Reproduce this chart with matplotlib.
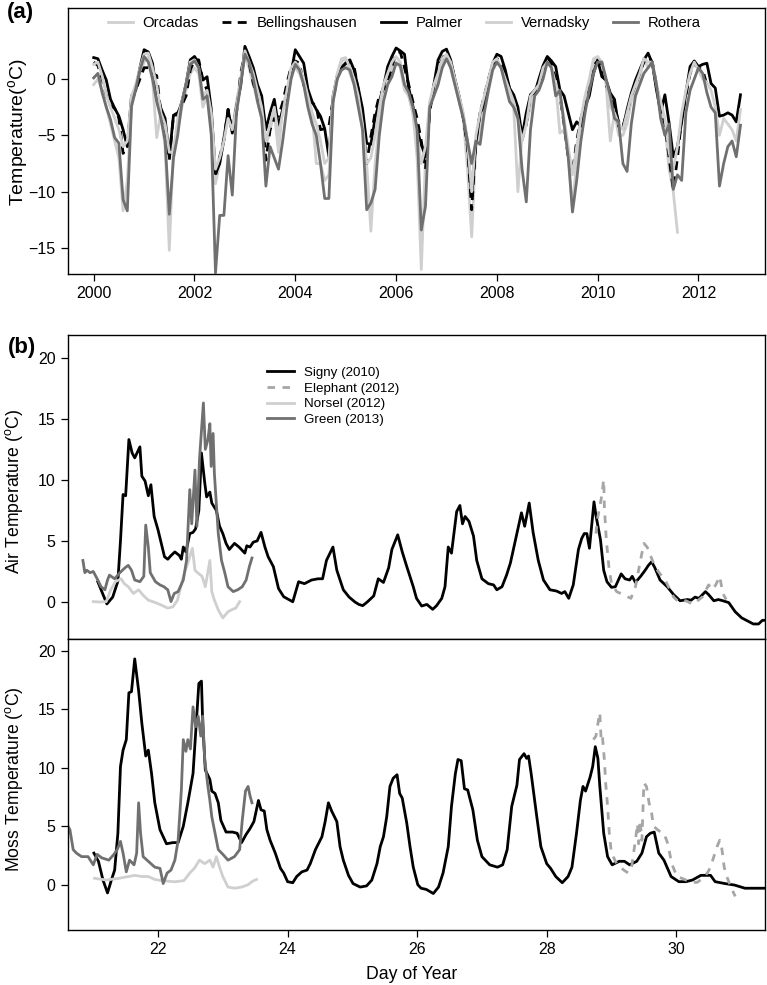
import numpy as np
import matplotlib
matplotlib.use("Agg")
import matplotlib.pyplot as plt

plt.rcParams['font.family'] = ['Liberation Sans', 'DejaVu Sans']
plt.rcParams['mathtext.fontset'] = 'custom'
plt.rcParams['mathtext.rm'] = 'Liberation Sans'
plt.rcParams['mathtext.it'] = 'Liberation Sans:italic'

# ---- panel (a): monthly mean temperature, Jan 2000 onward ----
orcadas = [
    -0.5, 0.0, -1.0, -2.5, -4.0, -5.5, -7.0, -11.7, -9.0, -2.5, -1.0, 0.5,
    1.5, 2.0, 0.0, -5.2, -3.0, -6.0, -15.2, -6.0, -4.5, -2.5, -1.0, 0.5,
    1.0, 0.5, -2.5, -1.5, -3.5, -9.3, -7.5, -5.0, -3.0, -4.5, -2.0, 0.0,
    2.0, 1.0, -0.5, -2.0, -3.5, -6.0, -4.5, -3.0, -6.5, -2.5, -1.0, 0.5,
    1.0, 0.5, -0.5, -1.5, -3.0, -7.5, -7.5, -9.0, -8.5, -2.0, 0.0, 1.5,
    1.8, 0.5, -0.5, -2.0, -4.0, -7.5, -13.5, -7.5, -4.0, -1.5, 0.0, 1.0,
    1.5, 1.0, -1.0, -1.5, -3.0, -7.0, -16.9, -7.0, -2.5, -1.5, 0.0, 1.5,
    2.0, 1.0, -0.5, -2.0, -3.5, -8.0, -14.0, -6.0, -4.5, -2.5, -0.5, 1.0,
    1.5, 1.0, -0.5, -1.5, -2.5, -10.0, -5.0, -4.0, -2.5, -1.0, -0.5, 0.5,
    1.8, 1.0, -0.5, -4.8, -4.5, -6.5, -11.6, -7.0, -3.5, -2.0, -0.5, 1.5,
    1.8, 1.5, -0.5, -5.5, -3.0, -5.0, -5.0, -4.0, -2.0, -1.0, 0.0, 1.8,
    1.0, 1.5, -1.0, -2.0, -4.0, -8.0, -10.0, -13.6,
]
bellingshausen = [
    1.5, 1.2, 0.0, -1.5, -2.4, -2.6, -3.5, -6.6, -6.0, -2.0, -1.0, 0.0,
    1.0, 1.0, 0.5, 0.3, -3.0, -4.5, -7.2, -3.2, -3.0, -2.3, -1.5, 0.8,
    1.7, 1.7, -0.1, -1.0, -3.9, -8.6, -6.9, -5.4, -2.7, -4.8, -3.0, 0.5,
    2.3, 1.4, -0.4, -1.5, -2.4, -7.2, -4.5, -3.5, -3.3, -2.1, -0.4, 1.1,
    1.6, 1.4, -0.5, -1.5, -2.1, -2.4, -4.5, -4.4, -4.2, -1.8, 0.2, 1.0,
    1.4, 1.4, 1.1, -0.95, -3.6, -7.5, -5.1, -3.0, -1.5, -0.9, -0.4, 1.1,
    2.3, 2.4, 1.0, -0.5, -2.0, -3.5, -5.5, -8.0, -3.0, -0.5, 1.0, 1.8,
    2.4, 1.5, 0.0, -1.8, -3.5, -6.0, -11.6, -5.5, -3.0, -1.5, 0.0, 1.2,
    1.8, 1.5, 0.5, -0.8, -1.8, -3.0, -5.4, -4.0, -1.4, -1.0, -0.5, 0.5,
    2.0, 1.3, 0.0, -1.5, -4.0, -7.0, -8.3, -5.5, -3.5, -2.0, -0.5, 1.2,
    1.6, 1.0, -0.5, -1.5, -2.5, -3.8, -4.2, -3.0, -1.5, -0.5, 0.5, 1.5,
    2.0, 1.5, -0.5, -2.5, -4.0, -7.0, -9.8, -7.0, -3.5, -1.5, 0.5, 1.3,
    1.0, 0.8, -0.5,
]
palmer = [
    1.9, 1.8, 0.8, -0.1, -1.8, -2.6, -3.3, -4.5, -6.0, -1.5, -1.0, 1.0,
    2.6, 2.4, 1.4, -1.2, -2.6, -3.5, -6.9, -3.2, -3.2, -2.0, -0.4, 1.7,
    2.0, 1.4, -0.1, 0.2, -2.7, -8.4, -7.5, -5.4, -2.7, -4.8, -2.4, -0.6,
    2.9, 2.0, 1.0, -0.5, -1.5, -4.5, -3.0, -1.8, -4.2, -2.7, -1.5, 0.5,
    2.6, 2.0, 1.4, -0.9, -2.0, -2.7, -3.3, -4.4, -6.9, -1.5, 0.3, 1.0,
    1.4, 1.7, 0.8, -0.8, -2.6, -5.7, -5.8, -3.5, -2.0, -0.7, 1.1, 2.0,
    2.75, 2.5, 2.2, -0.8, -2.4, -4.5, -5.8, -6.9, -2.7, -0.5, 1.7, 2.45,
    2.65, 1.7, 0.0, -1.5, -3.3, -5.7, -10.4, -5.7, -3.0, -2.4, -0.1, 1.4,
    2.2, 2.0, 0.8, -0.8, -1.4, -2.5, -5.1, -3.0, -1.4, -1.25, 0.0, 1.2,
    2.0, 1.6, 1.1, -0.95, -1.5, -3.0, -4.5, -3.8, -4.2, -2.4, -1.5, 0.5,
    1.7, 0.2, -0.1, -1.25, -1.8, -4.2, -4.4, -2.7, -1.25, -0.1, 0.8, 1.7,
    2.3, 1.4, -0.95, -3.0, -1.4, -3.9, -6.9, -6.0, -3.8, -1.25, 1.1, 1.6,
    1.1, 1.3, 1.4, -0.4, -0.8, -3.3, -3.2, -3.0, -3.2, -3.8, -1.4,
]
vernadsky = [
    1.3, 1.5, 0.3, -1.5, -2.5, -3.5, -4.5, -6.0, -5.5, -1.5, -0.5, 1.0,
    2.2, 2.3, 1.0, -0.5, -3.0, -4.0, -6.5, -6.5, -3.5, -2.0, -0.5, 1.5,
    1.7, 1.0, -1.5, -1.0, -3.0, -8.0, -7.0, -5.5, -3.5, -4.5, -2.5, 0.0,
    2.5, 1.5, 0.5, -1.0, -2.5, -5.5, -4.0, -2.5, -5.0, -3.0, -1.0, 1.0,
    1.5, 1.0, 0.0, -1.5, -3.0, -4.0, -5.5, -7.5, -7.0, -1.5, 0.5, 1.8,
    1.9, 1.0, 0.0, -1.5, -4.0, -7.5, -7.0, -5.0, -2.5, -0.5, 0.5, 1.5,
    2.0, 1.5, -0.5, -1.5, -3.0, -5.0, -7.5, -6.0, -2.0, -0.5, 0.5, 1.8,
    2.2, 1.5, 0.0, -1.5, -3.0, -5.5, -10.0, -5.0, -3.0, -1.5, 0.0, 1.5,
    1.8, 1.0, 0.0, -1.0, -2.0, -3.5, -5.5, -4.0, -1.5, -1.0, -0.5, 1.0,
    1.5, 1.0, -0.5, -1.5, -3.5, -6.0, -8.5, -6.0, -3.5, -1.5, 0.0, 1.8,
    2.0, 1.5, 0.0, -2.5, -3.0, -4.0, -4.5, -3.0, -1.5, -0.5, 0.5, 1.8,
    1.5, 1.5, -0.5, -2.0, -3.5, -6.5, -8.0, -6.0, -3.0, -1.0, 0.5, 1.5,
    0.8, 0.0, -0.3, -1.0, -2.5, -5.0, -3.5, -4.0, -4.5, -5.5, -2.7,
]
rothera = [
    0.1, 0.5, -1.2, -2.5, -3.6, -5.2, -5.7, -10.7, -11.7, -2.4, -0.9, 0.8,
    2.0, 1.5, 0.0, -2.0, -3.5, -5.5, -12.0, -7.0, -5.0, -2.1, -0.5, 1.3,
    1.6, 1.0, -1.8, -1.5, -5.0, -17.2, -12.1, -12.1, -6.8, -10.3, -3.0, -0.5,
    2.2, 1.5, 0.0, -2.0, -3.5, -9.5, -6.0, -7.0, -8.0, -5.5, -2.5, 0.0,
    1.3, 0.8, -0.5, -2.5, -4.0, -5.0, -7.5, -10.6, -10.6, -2.0, 0.0, 0.8,
    1.0, 0.8, -0.5, -2.5, -4.5, -11.6, -11.0, -9.8, -5.0, -2.0, -0.5, 0.2,
    1.4, 1.2, -0.5, -1.2, -2.5, -4.5, -13.4, -11.3, -2.5, -1.5, -0.5, 1.0,
    1.8, 1.0, -0.5, -2.0, -3.5, -5.5, -7.5, -5.5, -5.8, -3.0, -1.0, 0.8,
    1.5, 1.0, -0.5, -2.0, -2.5, -3.5, -8.0, -10.9, -4.5, -1.5, -1.0, 0.0,
    1.5, 1.0, -1.5, -1.0, -4.0, -7.0, -11.8, -9.0, -5.5, -3.0, -1.0, 0.5,
    1.5, 1.5, 0.0, -1.5, -3.5, -3.8, -7.5, -8.2, -4.0, -1.5, -0.5, 0.5,
    1.0, 1.5, -0.5, -3.5, -5.0, -4.0, -9.8, -8.5, -9.0, -3.0, -1.0, 0.0,
    1.0, 0.5, -1.2, -2.5, -3.0, -9.5, -7.5, -6.0, -5.5, -6.9, -4.1,
]

# ---- panel (b): air and moss temperature by day of year ----
signy_air_day = [21.07, 21.21, 21.30, 21.38, 21.42, 21.46, 21.50, 21.55, 21.60, 21.64, 21.72, 21.75,
                 21.80, 21.85, 21.89, 21.94, 22.00, 22.05, 22.10, 22.15, 22.20, 22.26, 22.33, 22.36,
                 22.39, 22.43, 22.49, 22.54, 22.58, 22.63, 22.67, 22.72, 22.75, 22.80, 22.83, 22.90,
                 22.95, 23.00, 23.05, 23.10, 23.18, 23.25, 23.34, 23.37, 23.42, 23.47, 23.53, 23.59,
                 23.65, 23.70, 23.78, 23.86, 23.94, 24.08, 24.17, 24.26, 24.37, 24.47, 24.54, 24.60,
                 24.70, 24.76, 24.86, 24.95, 25.04, 25.10, 25.16, 25.23, 25.33, 25.40, 25.48, 25.56,
                 25.61, 25.70, 25.77, 25.84, 25.94, 25.99, 26.07, 26.15, 26.24, 26.30, 26.38, 26.43,
                 26.48, 26.53, 26.61, 26.66, 26.70, 26.74, 26.80, 26.87, 26.92, 27.00, 27.10, 27.18,
                 27.23, 27.31, 27.38, 27.44, 27.54, 27.61, 27.66, 27.73, 27.79, 27.87, 27.95, 28.05,
                 28.15, 28.23, 28.28, 28.34, 28.41, 28.49, 28.54, 28.58, 28.62, 28.66, 28.73, 28.76,
                 28.83, 28.88, 28.93, 29.00, 29.06, 29.15, 29.21, 29.28, 29.32, 29.37, 29.45, 29.52,
                 29.57, 29.62, 29.67, 29.75, 29.86, 29.96, 30.06, 30.17, 30.23, 30.29, 30.35, 30.45,
                 30.50, 30.58, 30.65, 30.72, 30.81, 30.91, 31.01, 31.12, 31.19, 31.27, 31.33, 31.38]
signy_air = [1.66, -0.16, 0.4, 1.7, 5.0, 8.8, 8.7, 13.3, 12.2, 11.8, 12.7, 10.3,
             9.9, 8.7, 9.6, 7.0, 5.9, 4.8, 3.7, 3.5, 3.8, 4.1, 3.8, 3.5,
             4.5, 4.1, 5.6, 5.7, 6.0, 7.5, 12.2, 9.8, 8.6, 9.0, 8.1, 7.5,
             6.2, 5.6, 4.8, 4.3, 4.8, 4.5, 4.0, 4.6, 4.5, 4.9, 5.0, 5.7,
             4.5, 3.7, 2.9, 1.1, 0.43, 0.02, 1.66, 1.5, 1.8, 1.9, 1.9, 3.4,
             4.5, 2.6, 1.0, 0.4, 0.0, -0.2, -0.3, 0.0, 0.5, 1.9, 1.6, 2.8,
             4.3, 5.5, 4.1, 2.9, 1.25, 0.3, -0.33, -0.2, -0.6, -0.3, 0.3, 1.25,
             4.5, 4.0, 7.4, 7.9, 6.4, 7.0, 6.6, 5.4, 3.4, 1.9, 1.5, 1.4,
             1.0, 1.25, 2.2, 3.2, 5.6, 7.3, 6.2, 8.1, 5.7, 3.4, 1.8, 1.0,
             0.9, 0.7, 0.85, 0.3, 1.4, 4.3, 5.2, 5.6, 5.6, 4.4, 8.2, 7.1,
             5.1, 2.6, 1.66, 1.2, 1.25, 2.3, 1.9, 1.8, 2.1, 1.6, 2.1, 2.6,
             3.0, 3.3, 2.8, 1.8, 1.25, 0.6, 0.1, 0.2, 0.15, 0.4, 0.3, 0.85,
             0.6, 0.1, 0.2, 0.1, -0.05, -0.8, -1.3, -1.6, -1.8, -1.8, -1.5, -1.5]

elephant_air_day = [28.76, 28.78, 28.84, 28.88, 28.89, 28.92, 28.96, 29.00, 29.08, 29.18, 29.30,
                    29.37, 29.44, 29.50, 29.55, 29.61, 29.67, 29.75, 29.83, 29.88, 29.96, 30.04,
                    30.15, 30.26, 30.34, 30.40, 30.50, 30.55, 30.61, 30.67, 30.72, 30.77]
elephant_air = [5.6, 6.7, 8.4, 10.0, 7.8, 5.1, 2.9, 1.5, 0.85, 0.6, 0.3,
                1.25, 3.2, 4.8, 4.5, 3.7, 2.9, 2.3, 1.8, 1.25, 0.4, 0.0,
                0.1, -0.2, 0.15, 0.4, 1.4, 1.0, 1.4, 2.1, 0.7, 0.2]

norsel_air_day = [21.00, 21.10, 21.20, 21.27, 21.34, 21.43, 21.48, 21.54, 21.62, 21.70, 21.77,
                  21.85, 21.96, 22.05, 22.15, 22.23, 22.30, 22.39, 22.46, 22.53, 22.57, 22.61,
                  22.68, 22.73, 22.80, 22.83, 22.87, 22.93, 23.00, 23.08, 23.15, 23.20, 23.26]
norsel_air = [0.03, 0.0, 0.03, 1.0, 1.66, 1.9, 1.5, 1.25, 0.7, 1.0, 0.55,
              0.15, -0.05, -0.25, -0.5, -0.4, 0.15, 2.1, 3.2, 4.4, 2.6, 2.4,
              2.1, 1.25, 3.4, 0.85, 0.15, -0.65, -1.3, -0.8, -0.6, -0.5, 0.03]

green_air_day = [20.84, 20.87, 20.90, 20.95, 21.00, 21.07, 21.12, 21.18, 21.22, 21.25, 21.33,
                 21.41, 21.49, 21.54, 21.59, 21.64, 21.72, 21.78, 21.81, 21.85, 21.88, 21.96,
                 22.03, 22.09, 22.15, 22.20, 22.25, 22.31, 22.39, 22.44, 22.49, 22.52, 22.57,
                 22.60, 22.64, 22.70, 22.73, 22.77, 22.80, 22.82, 22.85, 22.87, 22.93, 22.98,
                 23.03, 23.08, 23.16, 23.23, 23.30, 23.36, 23.41, 23.45]
green_air = [3.4, 2.4, 2.6, 2.4, 2.5, 1.8, 1.25, 1.0, 1.8, 2.2, 1.9,
             2.4, 2.8, 3.0, 2.6, 1.8, 1.66, 2.1, 6.3, 4.5, 2.4, 1.66,
             1.4, 1.25, 1.0, 0.03, 0.7, 0.85, 1.8, 3.4, 9.2, 6.4, 10.8,
             6.2, 11.7, 16.3, 12.5, 13.3, 14.6, 11.1, 13.8, 10.5, 5.6, 3.4,
             2.4, 1.25, 0.85, 1.0, 1.25, 1.8, 2.9, 3.6]

signy_moss_day = [21.01, 21.08, 21.15, 21.22, 21.28, 21.33, 21.38, 21.42, 21.46, 21.51, 21.55, 21.59,
                  21.64, 21.70, 21.75, 21.81, 21.85, 21.90, 21.95, 22.03, 22.13, 22.23, 22.31, 22.39,
                  22.46, 22.54, 22.59, 22.63, 22.67, 22.69, 22.73, 22.80, 22.83, 22.88, 22.93, 22.97,
                  23.05, 23.15, 23.22, 23.29, 23.36, 23.42, 23.48, 23.55, 23.59, 23.64, 23.68, 23.73,
                  23.81, 23.89, 23.94, 24.00, 24.08, 24.14, 24.22, 24.30, 24.35, 24.43, 24.53, 24.58,
                  24.63, 24.68, 24.76, 24.81, 24.86, 24.94, 25.01, 25.12, 25.22, 25.30, 25.38, 25.43,
                  25.48, 25.53, 25.58, 25.63, 25.69, 25.73, 25.77, 25.84, 25.89, 25.94, 26.01, 26.06,
                  26.14, 26.25, 26.33, 26.40, 26.48, 26.53, 26.59, 26.63, 26.68, 26.73, 26.78, 26.86,
                  26.93, 27.00, 27.12, 27.24, 27.32, 27.39, 27.46, 27.54, 27.58, 27.65, 27.69, 27.72,
                  27.76, 27.84, 27.91, 28.00, 28.06, 28.14, 28.24, 28.33, 28.39, 28.46, 28.52, 28.56,
                  28.60, 28.67, 28.71, 28.75, 28.79, 28.82, 28.88, 28.94, 29.01, 29.12, 29.20, 29.28,
                  29.39, 29.47, 29.54, 29.60, 29.66, 29.73, 29.81, 29.92, 30.04, 30.15, 30.25, 30.38,
                  30.53, 30.60, 30.75, 30.90, 31.06, 31.21, 31.36]
signy_moss = [2.7, 2.0, 0.4, -0.7, 0.4, 1.25, 4.4, 10.1, 11.5, 12.4, 16.4, 16.5,
              19.3, 16.6, 13.8, 11.0, 11.5, 9.5, 7.0, 4.7, 3.5, 3.6, 3.6, 5.0,
              7.0, 9.5, 13.8, 17.2, 17.4, 13.8, 9.8, 9.0, 8.0, 7.8, 7.0, 5.5,
              4.5, 4.5, 4.4, 3.6, 4.3, 4.8, 5.4, 7.2, 6.4, 6.3, 4.7, 3.8,
              2.7, 1.4, 1.0, 0.26, 0.17, 0.7, 1.1, 1.25, 1.8, 3.0, 4.1, 5.4,
              7.0, 6.3, 5.4, 3.25, 2.1, 0.8, 0.1, -0.2, -0.1, 0.4, 1.8, 3.25,
              4.1, 5.8, 8.4, 9.1, 9.4, 7.8, 7.4, 5.25, 3.25, 1.5, 0.0, -0.3,
              -0.4, -0.75, -0.2, 1.0, 3.25, 6.7, 9.5, 10.7, 10.6, 8.2, 8.1, 6.4,
              3.8, 2.4, 1.7, 1.5, 1.7, 3.0, 6.7, 8.5, 10.7, 11.2, 10.8, 11.0,
              9.5, 6.1, 3.25, 1.8, 1.4, 0.7, 0.17, 0.7, 1.5, 4.4, 7.2, 8.4,
              8.0, 9.2, 10.1, 11.8, 10.8, 8.4, 4.4, 2.4, 1.7, 2.0, 2.0, 1.7,
              2.0, 2.7, 4.1, 4.4, 4.5, 2.7, 2.1, 0.7, 0.26, 0.26, 0.4, 0.8,
              0.8, 0.26, 0.1, -0.03, -0.3, -0.3, -0.3]

elephant_moss_day = [28.72, 28.76, 28.80, 28.82, 28.84, 28.86, 28.89, 28.91, 28.94, 28.97, 29.00,
                     29.08, 29.19, 29.26, 29.31, 29.37, 29.40, 29.42, 29.44, 29.47, 29.50, 29.54,
                     29.58, 29.62, 29.65, 29.71, 29.76, 29.81, 29.87, 29.93, 30.01, 30.11, 30.22,
                     30.32, 30.40, 30.48, 30.53, 30.58, 30.63, 30.67, 30.70, 30.74, 30.78, 30.83, 30.91]
elephant_moss = [12.4, 12.7, 14.1, 14.7, 12.4, 12.7, 10.7, 8.7, 6.7, 4.1, 2.7,
                 1.8, 1.25, 1.0, 1.5, 3.8, 5.2, 3.5, 5.5, 3.8, 8.7, 8.4,
                 7.0, 6.1, 5.0, 4.7, 4.5, 4.4, 3.5, 1.8, 0.7, 0.5, 0.2,
                 0.2, 0.5, 1.0, 1.5, 2.4, 3.25, 3.8, 3.25, 1.5, 0.7, 0.0, -1.0]

norsel_moss_day = [21.02, 21.20, 21.40, 21.64, 21.75, 21.85, 21.95, 22.05, 22.26, 22.40, 22.49,
                   22.56, 22.64, 22.72, 22.80, 22.85, 22.90, 22.95, 23.00, 23.08, 23.18, 23.29,
                   23.39, 23.46, 23.52]
norsel_moss = [0.55, 0.4, 0.55, 0.8, 0.7, 0.7, 0.45, 0.35, 0.25, 0.35, 1.0,
               1.4, 2.1, 1.8, 2.1, 1.5, 2.4, 1.5, 0.7, -0.2, -0.3, -0.2,
               0.0, 0.3, 0.45]

green_moss_day = [20.61, 20.64, 20.69, 20.74, 20.82, 20.92, 21.00, 21.06, 21.13, 21.24, 21.32,
                  21.37, 21.42, 21.46, 21.51, 21.56, 21.63, 21.67, 21.70, 21.73, 21.77, 21.85,
                  21.95, 22.03, 22.08, 22.14, 22.20, 22.26, 22.31, 22.36, 22.39, 22.43, 22.46,
                  22.50, 22.54, 22.58, 22.62, 22.66, 22.69, 22.72, 22.77, 22.80, 22.83, 22.88,
                  22.93, 23.00, 23.08, 23.18, 23.26, 23.30, 23.35, 23.39, 23.42, 23.45]
green_moss = [5.0, 4.7, 3.0, 2.7, 2.4, 2.4, 1.7, 2.6, 2.3, 2.1, 2.6,
              3.0, 3.7, 2.7, 1.1, 2.1, 1.7, 2.7, 7.0, 4.4, 2.4, 2.0,
              1.5, 1.4, 0.1, 1.0, 1.25, 2.1, 3.8, 8.1, 12.4, 11.4, 12.4,
              11.6, 15.2, 13.5, 14.4, 12.7, 14.4, 10.7, 8.4, 7.2, 5.8, 4.4,
              3.0, 2.6, 2.1, 2.4, 3.0, 5.5, 8.0, 8.4, 7.6, 7.0]

LIGHT = '#cfcfcf'
MID = '#707070'
ELE = '#a6a6a6'
LW = 2.0

fig = plt.figure(figsize=(7.67, 9.85), dpi=100)
W, H = 767.0, 985.0

def box(left, top, right, bottom):
    return [left / W, 1 - bottom / H, (right - left) / W, (bottom - top) / H]

ax_a = fig.add_axes(box(68, 8, 765, 274))
ax_air = fig.add_axes(box(68, 335, 765, 639))
ax_moss = fig.add_axes(box(68, 639, 765, 930))

# panel (a)
stations = [
    ('Orcadas', orcadas, LIGHT, '-'),
    ('Bellingshausen', bellingshausen, 'black', '--'),
    ('Palmer', palmer, 'black', '-'),
    ('Vernadsky', vernadsky, LIGHT, '-'),
    ('Rothera', rothera, MID, '-'),
]
for name, vals, col, ls in stations:
    t = 2000 + np.arange(len(vals)) / 12.0
    line, = ax_a.plot(t, vals, color=col, lw=LW, label=name)
    if ls == '--':
        line.set_dashes((3.2, 2.3))

ax_a.set_xlim(1999.49, 2013.32)
ax_a.set_ylim(-17.3, 6.3)
ax_a.set_xticks([2000, 2002, 2004, 2006, 2008, 2010, 2012])
ax_a.set_yticks([-15, -10, -5, 0])
ax_a.set_ylabel(r'Temperature($^{\mathrm{o}}$C)', fontsize=14)
ax_a.yaxis.set_label_coords(-0.055, 0.534)
ax_a.legend(loc='center left', bbox_to_anchor=(0.057, 0.944), ncol=5, frameon=False,
            fontsize=10.7, handlelength=1.7, handletextpad=0.65, columnspacing=1.55,
            borderpad=0, borderaxespad=0)

# panel (b) air
ax_air.plot(signy_air_day, signy_air, color='black', lw=LW, label='Signy (2010)')
l, = ax_air.plot(elephant_air_day, elephant_air, color=ELE, lw=LW, label='Elephant (2012)')
l.set_dashes((2.7, 2.7))
ax_air.plot(norsel_air_day, norsel_air, color=LIGHT, lw=LW, label='Norsel (2012)')
ax_air.plot(green_air_day, green_air, color=MID, lw=LW, label='Green (2013)')
ax_air.set_xlim(20.61, 31.37)
ax_air.set_ylim(-3.03, 21.86)
ax_air.set_yticks([0, 5, 10, 15, 20])
ax_air.set_xticks([])
ax_air.set_ylabel(r'Air Temperature ($^{\mathrm{o}}$C)', fontsize=12.7)
ax_air.yaxis.set_label_coords(-0.062, 0.4845)
ax_air.legend(loc='center left', bbox_to_anchor=(0.2855, 0.798), frameon=False,
              fontsize=9.6, handlelength=2.0, handletextpad=0.8, labelspacing=0.25,
              borderpad=0, borderaxespad=0)

# panel (b) moss
ax_moss.plot(signy_moss_day, signy_moss, color='black', lw=LW)
l, = ax_moss.plot(elephant_moss_day, elephant_moss, color=ELE, lw=LW)
l.set_dashes((2.7, 2.7))
ax_moss.plot(norsel_moss_day, norsel_moss, color=LIGHT, lw=LW)
ax_moss.plot(green_moss_day, green_moss, color=MID, lw=LW)
ax_moss.set_xlim(20.61, 31.37)
ax_moss.set_ylim(-3.87, 21.0)
ax_moss.set_yticks([0, 5, 10, 15, 20])
ax_moss.set_xticks([22, 24, 26, 28, 30])
ax_moss.set_ylabel(r'Moss Temperature ($^{\mathrm{o}}$C)', fontsize=12.7)
ax_moss.yaxis.set_label_coords(-0.062, 0.519)
ax_moss.set_xlabel('Day of Year', fontsize=12.7)
ax_moss.xaxis.set_label_coords(0.493, -0.122)

for ax in (ax_a, ax_air, ax_moss):
    ax.tick_params(direction='out', length=5, width=0.9, labelsize=11.5, pad=4)
    for s in ax.spines.values():
        s.set_linewidth(1.0)

fig.text(7 / W, 1 - 2 / H, '(a)', fontsize=16, fontweight='bold', va='top', ha='left')
fig.text(8 / W, 1 - 337 / H, '(b)', fontsize=16, fontweight='bold', va='top', ha='left')

fig.savefig('out.png', dpi=100)
